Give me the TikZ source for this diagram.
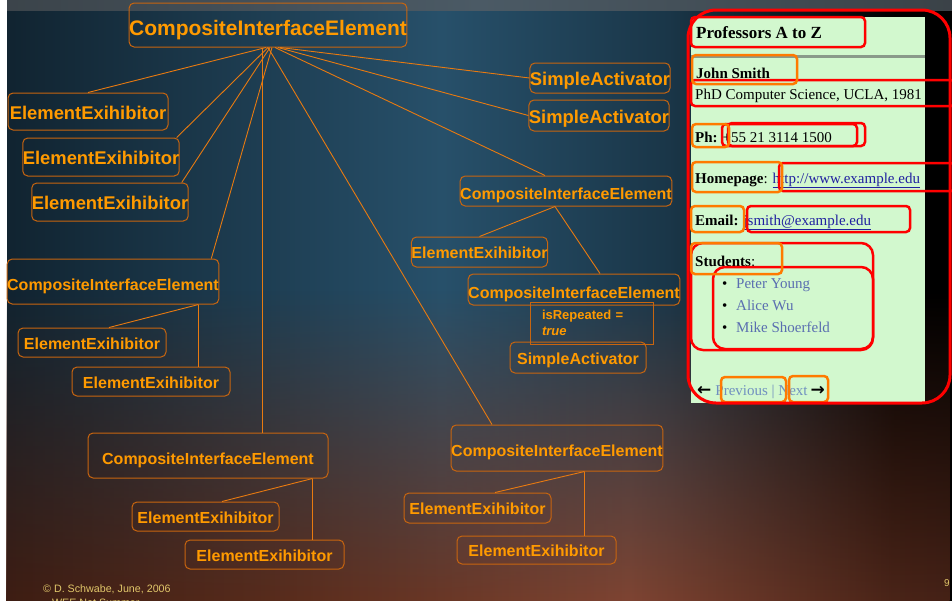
\documentclass[tikz,border=0pt]{standalone}
\usepackage{fontspec}
\setmainfont{Liberation Serif}
\newfontfamily\arial{Liberation Sans}
\newfontfamily\dejavu{DejaVu Sans}
\usetikzlibrary{fadings}

\definecolor{boxc}{HTML}{C8650F}
\definecolor{linec}{HTML}{E87A10}
\definecolor{txtc}{HTML}{FF9A00}
\definecolor{panelg}{HTML}{D2F8CE}
\definecolor{redb}{HTML}{FF0000}
\definecolor{orb}{HTML}{FF7A00}
\definecolor{linkc}{HTML}{2020A0}
\definecolor{visc}{HTML}{5A6EB0}
\definecolor{navc}{HTML}{7090C0}
\definecolor{footc}{HTML}{E0C66A}
\definecolor{rulec}{HTML}{8A9A8A}
\definecolor{ca}{HTML}{0C1A24}
\definecolor{cb}{HTML}{27506A}
\definecolor{cc}{HTML}{1A3648}
\definecolor{ba}{HTML}{1E0C08}
\definecolor{bb}{HTML}{5A2C1C}
\definecolor{bc}{HTML}{7E4432}
\definecolor{bd}{HTML}{4A2418}
\definecolor{ta}{HTML}{2C2E30}
\definecolor{tb}{HTML}{4B5A65}
\definecolor{tc}{HTML}{2A2A2A}

\pgfdeclarehorizontalshading{bgblue}{100bp}{color(0bp)=(black); color(4bp)=(black); color(20bp)=(ca); color(48bp)=(cb); color(60bp)=(cc); color(72bp)=(black); color(100bp)=(black)}
\pgfdeclarehorizontalshading{bgbrown}{100bp}{color(0bp)=(black); color(8bp)=(ba); color(40bp)=(bb); color(58bp)=(bc); color(72bp)=(bd); color(100bp)=(ba)}
\pgfdeclarehorizontalshading{bgtop}{100bp}{color(0bp)=(ta); color(50bp)=(tb); color(100bp)=(tc)}
\tikzfading[name=upfade, top color=transparent!100, bottom color=transparent!0]

\tikzset{
  box/.style={draw=boxc, line width=1pt, rounded corners=5pt, text=txtc, inner sep=0pt,
    text height=13.4pt, text depth=0pt,
    font=\arial\bfseries\fontsize{16}{16}\selectfont},
  comp/.style={text height=17.4pt, text depth=0pt},
  bigtxt/.style={font=\arial\bfseries\fontsize{18.4}{18.4}\selectfont, text height=15pt, text depth=0pt},
  edge/.style={draw=linec, line width=0.9pt},
  redbox/.style={draw=redb, line width=2.5pt, rounded corners=4pt},
  orbox/.style={draw=orb, line width=2.5pt, rounded corners=4pt},
  ptxt/.style={anchor=base west, inner sep=0pt, font=\fontsize{15}{15}\selectfont},
}

\begin{document}
\begin{tikzpicture}[x=1pt,y=-1pt]
\useasboundingbox (0,0) rectangle (952,603);
\fill[white] (0,0) rectangle (952,603);
\fill[black] (7,0) rectangle (952,600);
\shade[shading=bgblue] (7,10) rectangle (952,600);
\shade[shading=bgbrown, path fading=upfade] (7,290) rectangle (952,600);
\shade[shading=bgtop] (7,0) rectangle (952,10);

% ---------- diagram nodes ----------
\node[box, minimum width=272pt, minimum height=44pt, font=\arial\bfseries\fontsize{21}{21}\selectfont, text height=21pt] (root) at (268,25) {CompositeInterfaceElement};

\node[box, bigtxt, minimum width=160pt, minimum height=37pt] (ee1) at (88,111.5) {ElementExihibitor};
\node[box, bigtxt, minimum width=150pt, minimum height=38pt] (ee2) at (101,157) {ElementExihibitor};
\node[box, bigtxt, minimum width=154pt, minimum height=38pt] (ee3) at (110,202) {ElementExihibitor};
\node[box, bigtxt, minimum width=136pt, minimum height=30pt] (sa1) at (600,78) {SimpleActivator};
\node[box, bigtxt, minimum width=138pt, minimum height=31pt] (sa2) at (599,115.5) {SimpleActivator};

\node[box, comp, minimum width=204pt, minimum height=30pt] (rc) at (566,191) {CompositeInterfaceElement};
\node[box, minimum width=135pt, minimum height=30pt] (mee) at (479.5,252) {ElementExihibitor};
\node[box, comp, minimum width=204pt, minimum height=31pt] (rc2) at (574,289.5) {CompositeInterfaceElement};
\node[draw=boxc, line width=1pt, text=txtc, align=left, text width=99pt, inner xsep=12pt, inner ysep=0pt,
  minimum height=42pt, font=\arial\bfseries\fontsize{13}{16}\selectfont] (isrep) at (591.5,323) {isRepeated =\\\textit{true}};
\node[box, minimum width=136pt, minimum height=31pt] (sa3) at (578,357.5) {SimpleActivator};

\node[box, comp, minimum width=210pt, minimum height=45pt] (lc) at (113,281.5) {CompositeInterfaceElement};
\node[box, minimum width=148pt, minimum height=29pt] (lee1) at (92,342.5) {ElementExihibitor};
\node[box, minimum width=158pt, minimum height=29pt] (lee2) at (151,381.5) {ElementExihibitor};

\node[box, comp, minimum width=240pt, minimum height=45pt] (bcn) at (208,455.5) {CompositeInterfaceElement};
\node[box, minimum width=147pt, minimum height=29pt] (bee1) at (205.5,516.5) {ElementExihibitor};
\node[box, minimum width=159pt, minimum height=29pt] (bee2) at (264.5,554.5) {ElementExihibitor};

\node[box, comp, minimum width=208pt, minimum height=46pt] (brc) at (557,448) {CompositeInterfaceElement};
\node[box, minimum width=147pt, minimum height=30pt] (bree1) at (477.5,508) {ElementExihibitor};
\node[box, minimum width=159pt, minimum height=28pt] (bree2) at (536.5,550) {ElementExihibitor};

% ---------- connectors ----------
\draw[edge] ([xshift=-2pt]root.south) -- (ee1.north);
\draw[edge] (root.south) -- ([xshift=-3pt]ee2.north east);
\draw[edge] ([xshift=2pt]root.south) -- ([xshift=-7pt]ee3.north east);
\draw[edge] ([xshift=4pt]root.south) -- ([xshift=-8pt]lc.north east);
\draw[edge] ([xshift=-5.5pt]root.south) -- ([xshift=54.5pt]bcn.north);
\draw[edge] (root.south) -- ([xshift=-65pt]brc.north);
\draw[edge] ([xshift=7pt]root.south) -- ([xshift=-21pt]rc.north);
\draw[edge] ([xshift=10pt]root.south) -- (sa2.west);
\draw[edge] ([xshift=12pt]root.south) -- (sa1.west);

\draw[edge] ([xshift=-11pt]rc.south) -- (mee.north);
\draw[edge] ([xshift=-11pt]rc.south) -- ([xshift=26pt]rc2.north);

\draw[edge] ([xshift=85.5pt]lc.south) -- ([xshift=17pt]lee1.north);
\draw[edge] ([xshift=85.5pt]lc.south) -- ([xshift=47.5pt]lee2.north);

\draw[edge] ([xshift=104.5pt]bcn.south) -- ([xshift=16.5pt]bee1.north);
\draw[edge] ([xshift=104.5pt]bcn.south) -- ([xshift=48pt]bee2.north);

\draw[edge] ([xshift=27.5pt]brc.south) -- ([xshift=17.5pt]bree1.north);
\draw[edge] ([xshift=27.5pt]brc.south) -- ([xshift=48pt]bree2.north);

% ---------- right panel ----------
\fill[panelg] (691,17) rectangle (925,403);
\fill[rulec] (691,55) rectangle (925,57.5);

\node[ptxt, font=\bfseries\fontsize{17}{17}\selectfont] (ttl) at (696,38) {Professors A to Z};
\node[ptxt, font=\bfseries\fontsize{15}{15}\selectfont] (jsm) at (696,78) {John Smith};
\node[ptxt] (phd) at (695,99) {PhD Computer Science, UCLA, 1981};
\node[ptxt] (ph) at (695,142) {\textbf{Ph:} +55 21 3114 1500};
\node[ptxt] (hp) at (695,183) {\textbf{Homepage}: \textcolor{linkc}{\underline{http://www.example.edu}}};
\node[ptxt] (em) at (695,225) {\textbf{Email:} \textcolor{linkc}{\underline{jsmith@example.edu}}};
\node[ptxt] (st) at (695,266) {\textbf{Students}:};
\node[ptxt] (s1) at (722,288) {\makebox[14pt][l]{•}\textcolor{visc}{Peter Young}};
\node[ptxt] (s2) at (722,310) {\makebox[14pt][l]{•}\textcolor{visc}{Alice Wu}};
\node[ptxt] (s3) at (722,332) {\makebox[14pt][l]{•}\textcolor{visc}{Mike Shoerfeld}};
\node[ptxt] (nav) at (697,395) {{\dejavu\bfseries\fontsize{17}{17}\selectfont ←}\hspace{4pt}\textcolor{navc}{Previous | Next}\hspace{3pt}{\dejavu\bfseries\fontsize{17}{17}\selectfont →}};

% red boxes
\draw[redbox] (691,17) rectangle (865,47);
\draw[redbox] (691,80) rectangle (955,106);
\draw[redbox] (722,124) rectangle (857,146);
\draw[redbox] (728,123) rectangle (865,146);
\draw[redbox] (779,163) rectangle (955,191);
\draw[redbox] (747,206) rectangle (910,232);
\draw[redbox, rounded corners=12pt] (691,243) rectangle (873,350);
\draw[redbox, rounded corners=12pt] (713,267) rectangle (873,349);
% orange boxes
\draw[orbox] (692,55) rectangle (797,84);
\draw[orbox] (692,124) rectangle (729,147);
\draw[orbox] (692,162) rectangle (782,192);
\draw[orbox] (691,206) rectangle (744,232);
\draw[orbox] (691,243) rectangle (782,274);
\draw[orbox] (721,377) rectangle (786,402);
\draw[orbox] (789,376) rectangle (828,402);
% big red outline
\draw[draw=redb, line width=3pt, rounded corners=28pt] (688,10) rectangle (950,403);

% ---------- footer ----------
\begin{scope}
\clip (7,0) rectangle (952,600);
\node[anchor=base west, inner sep=0pt, text=footc, font=\arial\fontsize{10.7}{10.7}\selectfont] (ft1) at (43,592) {© D. Schwabe, June, 2006};
\node[anchor=base west, inner sep=0pt, text=footc, font=\arial\fontsize{10.7}{10.7}\selectfont] (ft2) at (43,606) {– WEE Net Summer};
\end{scope}
\node[anchor=base west, inner sep=0pt, text=footc, font=\arial\fontsize{10}{10}\selectfont] (pg) at (944,586) {9};
\end{tikzpicture}
\end{document}
